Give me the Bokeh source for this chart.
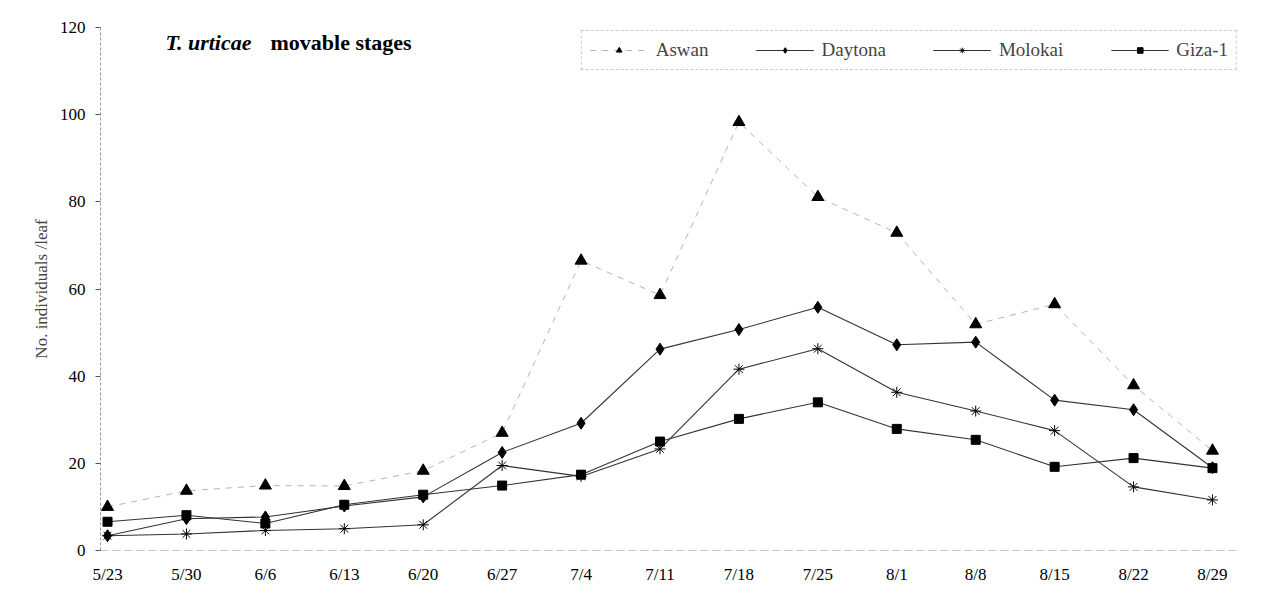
from bokeh.plotting import figure
from bokeh.models import Label, Legend, LegendItem, FixedTicker, Range1d
from bokeh.embed import file_html
from bokeh.resources import INLINE

dates = ["5/23", "5/30", "6/6", "6/13", "6/20", "6/27", "7/4", "7/11",
         "7/18", "7/25", "8/1", "8/8", "8/15", "8/22", "8/29"]
aswan = [10.0, 13.7, 14.9, 14.8, 18.3, 27.0, 66.5, 58.6, 98.3, 81.1, 72.9, 51.9, 56.5, 37.9, 22.9]
daytona = [3.4, 7.3, 7.7, 10.2, 12.3, 22.5, 29.2, 46.2, 50.7, 55.8, 47.2, 47.8, 34.5, 32.3, 19.0]
molokai = [3.4, 3.8, 4.6, 5.0, 5.9, 19.5, 17.0, 23.3, 41.6, 46.3, 36.3, 32.0, 27.5, 14.6, 11.6]
giza = [6.6, 8.1, 6.2, 10.5, 12.8, 14.9, 17.4, 25.0, 30.2, 34.0, 27.9, 25.4, 19.2, 21.2, 18.9]
y_ticks = [0, 20, 40, 60, 80, 100, 120]

x = list(range(len(dates)))
SERIF = "Liberation Serif"

p = figure(width=1266, height=586, output_backend="svg", toolbar_location=None,
           x_range=Range1d(-0.089, 14.355), y_range=Range1d(0, 120),
           min_border_left=100, min_border_right=26, min_border_top=27, min_border_bottom=34)
p.outline_line_color = None
p.xgrid.visible = False
p.ygrid.visible = False

# Aswan
l1 = p.line(x, aswan, line_color="#b4b4b4", line_width=1, line_dash="6 6")
s1 = p.scatter(x, aswan, marker="triangle", size=12, fill_color="black", line_color="black")
# Daytona
l2 = p.line(x, daytona, line_color="#333333", line_width=1.1)
s2 = p.scatter(x, daytona, marker="diamond", size=12, fill_color="black", line_color="black")
# Molokai
l3 = p.line(x, molokai, line_color="#333333", line_width=1.1)
s3 = p.scatter(x, molokai, marker="asterisk", size=11, fill_color=None, line_color="black", line_width=1)
# Giza-1
l4 = p.line(x, giza, line_color="#333333", line_width=1.1)
s4 = p.scatter(x, giza, marker="square", size=9, fill_color="black", line_color="black")

# axes
p.xaxis.ticker = FixedTicker(ticks=x)
p.xaxis.major_label_overrides = {i: d for i, d in zip(x, dates)}
p.xaxis.major_tick_line_color = None
p.xaxis.minor_tick_line_color = None
p.xaxis.axis_line_color = "#c4c4c4"
p.xaxis.axis_line_dash = "8 4"
p.xaxis.major_label_text_font = SERIF
p.xaxis.major_label_text_font_size = "17px"
p.xaxis.major_label_text_color = "black"
p.xaxis.major_label_standoff = 8

p.yaxis.ticker = FixedTicker(ticks=y_ticks)
p.yaxis.minor_tick_line_color = None
p.yaxis.major_tick_in = 0
p.yaxis.major_tick_out = 5
p.yaxis.major_tick_line_color = "#555555"
p.yaxis.axis_line_color = "#999999"
p.yaxis.axis_line_dash = "3 2"
p.yaxis.major_label_text_font = SERIF
p.yaxis.major_label_text_font_size = "17px"
p.yaxis.major_label_text_color = "black"
p.yaxis.major_label_standoff = 10
p.yaxis.axis_label = "No. individuals /leaf"
p.yaxis.axis_label_text_font = SERIF
p.yaxis.axis_label_text_font_style = "normal"
p.yaxis.axis_label_text_font_size = "17px"
p.yaxis.axis_label_standoff = 6

# title
p.add_layout(Label(x=0.735, y=116.6, text="T. urticae", text_font=SERIF,
                   text_font_style="bold italic", text_font_size="22px",
                   text_baseline="middle", text_color="black"))
p.add_layout(Label(x=2.065, y=116.6, text="movable stages", text_font=SERIF,
                   text_font_style="bold", text_font_size="22px",
                   text_baseline="middle", text_color="black"))

legend = Legend(items=[
    LegendItem(label="Aswan", renderers=[l1, s1]),
    LegendItem(label="Daytona", renderers=[l2, s2]),
    LegendItem(label="Molokai", renderers=[l3, s3]),
    LegendItem(label="Giza-1", renderers=[l4, s4]),
], orientation="horizontal", location="top_right")
legend.label_text_font = SERIF
legend.label_text_font_size = "19px"
legend.glyph_width = 58
legend.glyph_height = 14
legend.label_height = 14
legend.label_standoff = 8
legend.spacing = 47
legend.padding = 8
legend.margin = 3
legend.border_line_color = "#999999"
legend.border_line_dash = "6 3"
legend.background_fill_color = "white"
legend.background_fill_alpha = 1
p.add_layout(legend)

open("out.html", "w").write(file_html(p, INLINE))
